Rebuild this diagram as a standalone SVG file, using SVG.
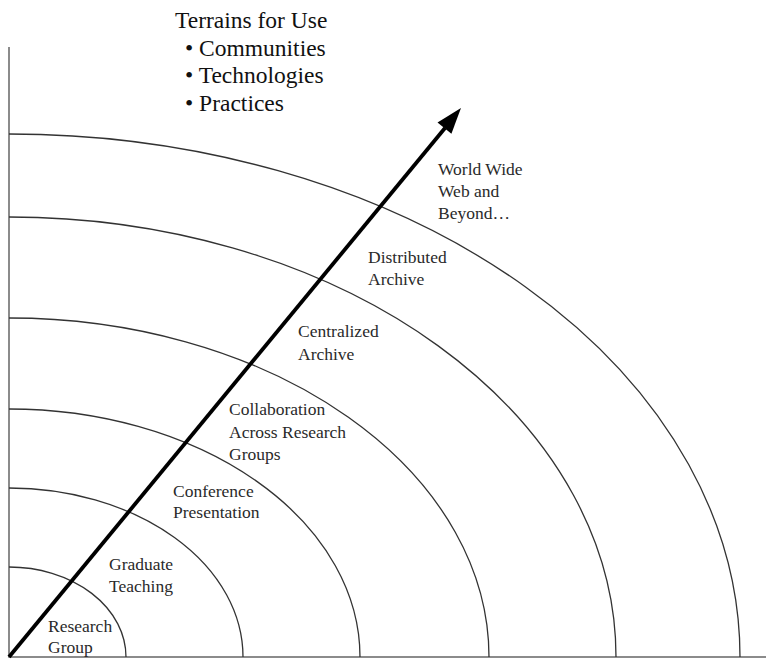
<svg xmlns="http://www.w3.org/2000/svg" width="769" height="660" viewBox="0 0 769 660">
<style>
.ring{fill:none;stroke:#333;stroke-width:1.3}
.axis{fill:none;stroke:#666;stroke-width:1.5}
.lbl{font-family:"Liberation Serif","Times New Roman",serif;font-size:17.5px;fill:#2a2a2a}
.hdr{font-family:"Liberation Serif","Times New Roman",serif;font-size:23.5px;fill:#111}
</style>
<rect width="769" height="660" fill="#fff"/>
<g id="axes">
<path class="axis" d="M9,47 V657 H766"/>
</g>
<g id="title">
<text class="hdr" x="175" y="28">Terrains for Use</text>
<text class="hdr" x="185" y="56">• Communities</text>
<text class="hdr" x="185" y="83">• Technologies</text>
<text class="hdr" x="185" y="111">• Practices</text>
</g>
<g id="research-group">
<path class="ring" d="M9,567 A117,90 0 0 1 126,657"/>
<text class="lbl" x="48" y="632">Research</text>
<text class="lbl" x="48" y="653">Group</text>
</g>
<g id="graduate-teaching">
<path class="ring" d="M9,488 A234,169 0 0 1 243,657"/>
<text class="lbl" x="109" y="570">Graduate</text>
<text class="lbl" x="109" y="592">Teaching</text>
</g>
<g id="conference-presentation">
<path class="ring" d="M9,409 A351,248 0 0 1 360,657"/>
<text class="lbl" x="173" y="497">Conference</text>
<text class="lbl" x="173" y="518">Presentation</text>
</g>
<g id="collaboration">
<path class="ring" d="M9,318 A480,339 0 0 1 489,657"/>
<text class="lbl" x="229" y="415">Collaboration</text>
<text class="lbl" x="229" y="438">Across Research</text>
<text class="lbl" x="229" y="460">Groups</text>
</g>
<g id="centralized-archive">
<path class="ring" d="M9,217 A607,440 0 0 1 616,657"/>
<text class="lbl" x="298" y="337">Centralized</text>
<text class="lbl" x="298" y="360">Archive</text>
</g>
<g id="distributed-archive">
<path class="ring" d="M9,134 A731,523 0 0 1 740,657"/>
<text class="lbl" x="368" y="263">Distributed</text>
<text class="lbl" x="368" y="285">Archive</text>
</g>
<g id="world-wide-web">
<text class="lbl" x="438" y="175">World Wide</text>
<text class="lbl" x="438" y="197">Web and</text>
<text class="lbl" x="438" y="219">Beyond…</text>
</g>
<g id="connectors">
<line x1="9" y1="657" x2="445" y2="128" stroke="#000" stroke-width="3.8"/>
<polygon points="461,108 451.4,133.8 437.5,122.4" fill="#000"/>
</g>
</svg>
